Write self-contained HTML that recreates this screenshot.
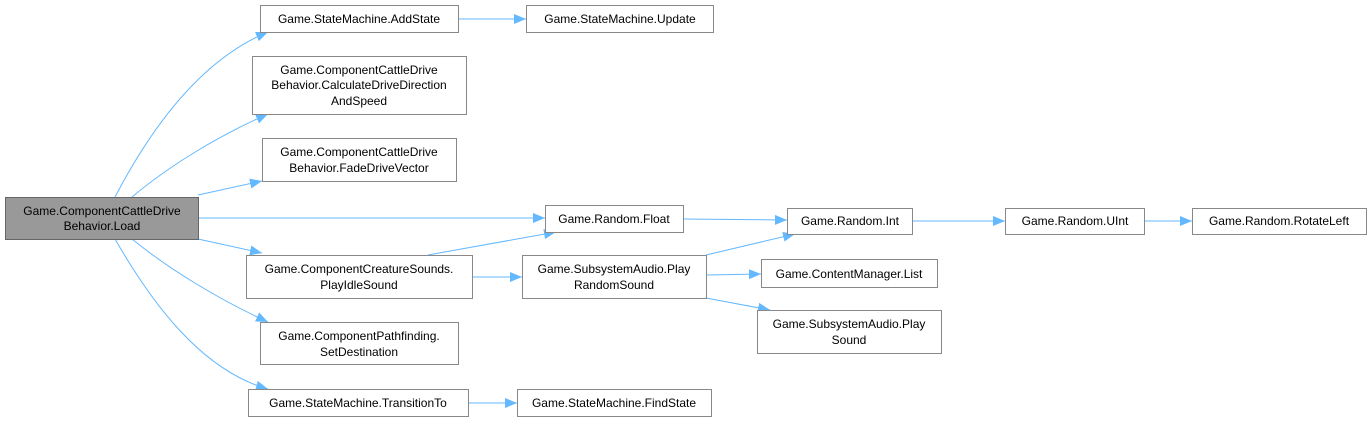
<!DOCTYPE html>
<html><head><meta charset="utf-8"><style>
html,body{margin:0;padding:0;background:#fff;}
svg text{font-family:"Liberation Sans",Arial,sans-serif;font-size:12px;fill:#000;}
</style></head><body>
<svg width="1372" height="421" viewBox="0 0 1372 421" xmlns="http://www.w3.org/2000/svg">
<defs>
<marker id="a" markerWidth="12" markerHeight="10" refX="12" refY="5" orient="auto" markerUnits="userSpaceOnUse">
<path d="M0,0 L12,5 L0,10 z" fill="#63b8ff"/>
</marker>
</defs>
<g fill="none" stroke="#63b8ff" stroke-width="1" marker-end="url(#a)">
<path d="M115,197 C150,130 200,60 268,32"/>
<path d="M132,197 C170,165 220,135 268,114"/>
<path d="M198,195 L262,181"/>
<path d="M198,218 L545,218"/>
<path d="M198,239 L262,253"/>
<path d="M132,239 C170,270 220,300 268,322"/>
<path d="M115,239 C150,300 200,370 268,389"/>
<path d="M458,19 L526,19"/>
<path d="M428,255 L556,232"/>
<path d="M472,277 L522,277"/>
<path d="M683,219 L787,220"/>
<path d="M706,255 L795,234"/>
<path d="M706,275 L761,274"/>
<path d="M706,298 L770,310"/>
<path d="M912,221 L1005,221"/>
<path d="M1144,221 L1192,221"/>
<path d="M468,403 L517,403"/>
</g>
<g stroke="#888" stroke-width="1" fill="#fff">
<rect x="5.5" y="197.5" width="193" height="42" fill="#999" stroke="#666"/>
<rect x="260.5" y="5.5" width="198" height="27"/>
<rect x="252.5" y="56.5" width="214" height="58"/>
<rect x="262.5" y="138.5" width="194" height="43"/>
<rect x="545.5" y="205.5" width="138" height="27"/>
<rect x="787.5" y="208.5" width="125" height="26"/>
<rect x="1005.5" y="208.5" width="139" height="26"/>
<rect x="1192.5" y="208.5" width="174" height="26"/>
<rect x="246.5" y="255.5" width="226" height="43"/>
<rect x="522.5" y="255.5" width="184" height="43"/>
<rect x="761.5" y="259.5" width="176" height="28"/>
<rect x="757.5" y="310.5" width="184" height="43"/>
<rect x="260.5" y="322.5" width="198" height="42"/>
<rect x="248.5" y="389.5" width="220" height="27"/>
<rect x="517.5" y="389.5" width="194" height="27"/>
<rect x="526.5" y="5.5" width="187" height="27"/>
</g>
<g text-anchor="middle">
<text x="102" y="215">Game.ComponentCattleDrive</text>
<text x="102" y="230">Behavior.Load</text>
<text x="359" y="23">Game.StateMachine.AddState</text>
<text x="620" y="23">Game.StateMachine.Update</text>
<text x="359" y="74">Game.ComponentCattleDrive</text>
<text x="359" y="89">Behavior.CalculateDriveDirection</text>
<text x="359" y="105">AndSpeed</text>
<text x="359" y="156">Game.ComponentCattleDrive</text>
<text x="359" y="172">Behavior.FadeDriveVector</text>
<text x="614" y="223">Game.Random.Float</text>
<text x="850" y="225">Game.Random.Int</text>
<text x="1075" y="225">Game.Random.UInt</text>
<text x="1279" y="225">Game.Random.RotateLeft</text>
<text x="359" y="273">Game.ComponentCreatureSounds.</text>
<text x="359" y="289">PlayIdleSound</text>
<text x="614" y="273">Game.SubsystemAudio.Play</text>
<text x="614" y="289">RandomSound</text>
<text x="849" y="278">Game.ContentManager.List</text>
<text x="849" y="328">Game.SubsystemAudio.Play</text>
<text x="849" y="344">Sound</text>
<text x="359" y="340">Game.ComponentPathfinding.</text>
<text x="359" y="356">SetDestination</text>
<text x="358" y="407">Game.StateMachine.TransitionTo</text>
<text x="614" y="407">Game.StateMachine.FindState</text>
</g>
</svg>
</body></html>
